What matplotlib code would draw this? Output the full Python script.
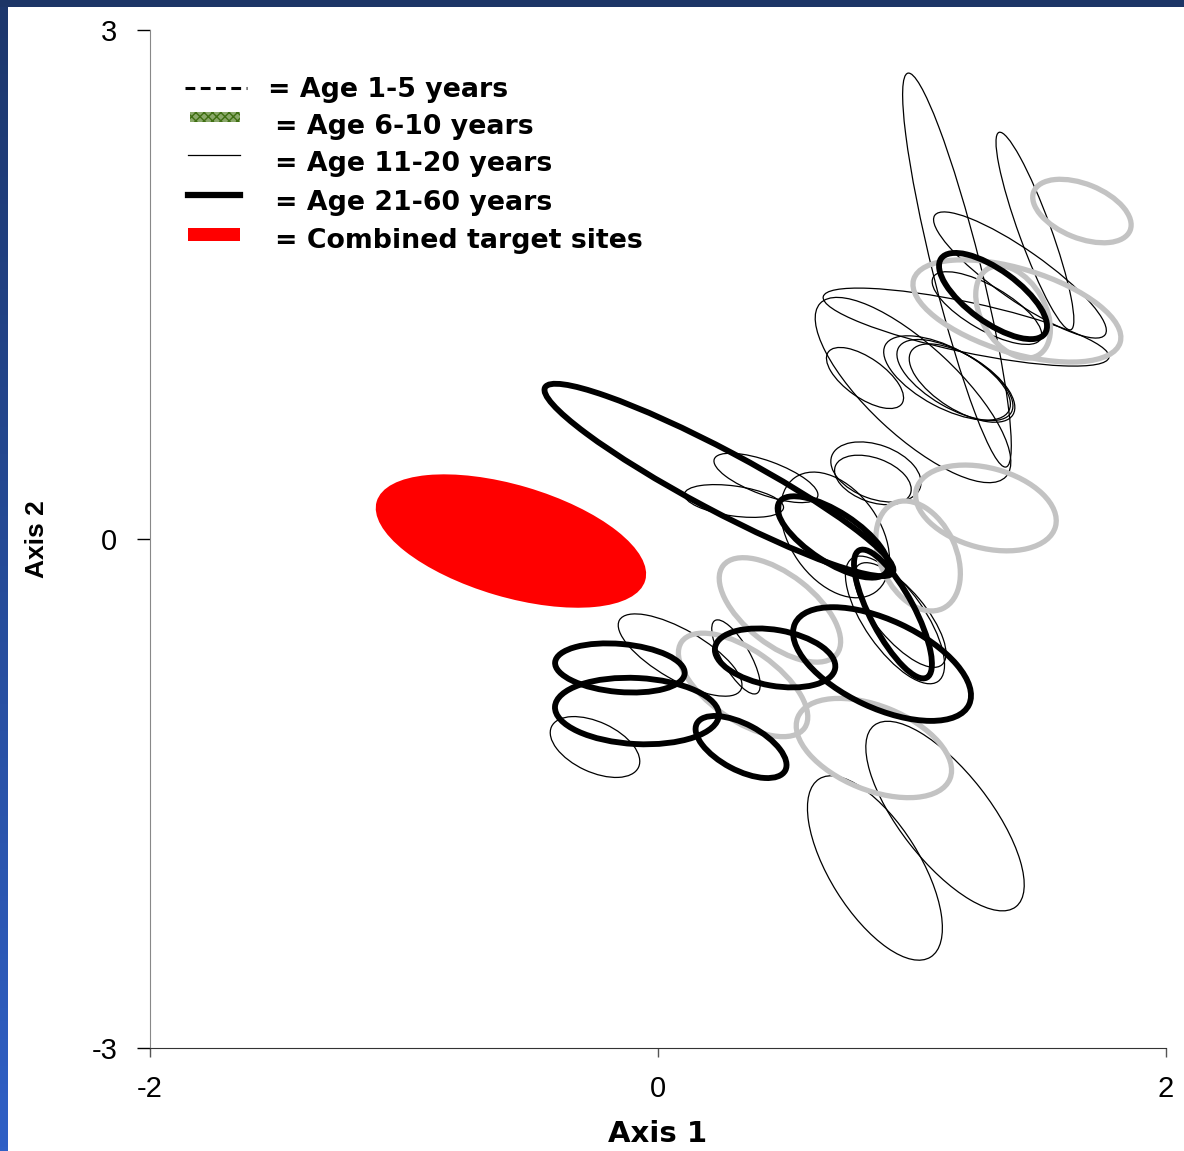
import numpy as np
import matplotlib.pyplot as plt
from matplotlib.collections import EllipseCollection
from matplotlib.patches import Rectangle
from matplotlib.lines import Line2D
from matplotlib.colors import LinearSegmentedColormap

# ellipse groups: centre x, centre y (axis units), full width / height
# (in axis-1 units) and screen angle in degrees
thin_x = [1.177, 1.484, 1.425, 1.295, 1.004, 1.138, 1.169, 1.197, 0.815,
          0.858, 0.846, 0.425, 0.299, 0.697, 0.933, 0.953, 0.087, -0.248,
          0.307, 0.854, 1.130, 1.213]
thin_y = [1.585, 1.815, 1.556, 1.361, 0.878, 0.949, 0.937, 0.919, 0.949,
          0.395, 0.348, 0.360, 0.224, 0.024, -0.477, -0.448, -0.684, -1.226,
          -0.695, -1.939, -1.633, 1.249]
thin_w = [1.598, 0.827, 0.819, 0.488, 1.000, 0.551, 0.512, 0.472, 0.354,
          0.370, 0.315, 0.433, 0.394, 0.551, 0.591, 0.512, 0.551, 0.378,
          0.331, 0.827, 0.906, 1.150]
thin_h = [0.189, 0.126, 0.197, 0.173, 0.354, 0.236, 0.220, 0.213, 0.157,
          0.213, 0.173, 0.134, 0.118, 0.354, 0.236, 0.197, 0.197, 0.197,
          0.110, 0.354, 0.354, 0.197]
thin_a = [-76, -70, -35, -30, -43, -28, -30, -32, -35,
          -20, -20, -20, -8, -55, -55, -50, -30, -25,
          -60, -58, -52, -12]

gray_x = [1.669, 1.413, 1.398, 1.291, 1.024, 0.480, 0.335, 0.850]
gray_y = [1.933, 1.344, 1.338, 0.183, -0.100, -0.418, -0.860, -1.232]
gray_w = [0.409, 0.850, 0.394, 0.567, 0.457, 0.567, 0.591, 0.646]
gray_h = [0.213, 0.331, 0.252, 0.315, 0.299, 0.276, 0.276, 0.331]
gray_a = [-22, -17, -60, -15, -65, -38, -35, -22]

thick_x = [0.240, 1.319, 0.689, 0.925, 0.882, 0.461, -0.150, -0.083, 0.327]
thick_y = [0.348, 1.432, 0.012, -0.442, -0.737, -0.701, -0.760, -1.014, -1.226]
thick_w = [1.551, 0.504, 0.504, 0.567, 0.756, 0.480, 0.512, 0.646, 0.394]
thick_h = [0.236, 0.205, 0.197, 0.173, 0.346, 0.220, 0.189, 0.260, 0.181]
thick_a = [-28, -36, -33, -62, -25, -10, -5, -3, -28]

target_x = [-0.579]
target_y = [-0.012]
target_w = [1.102]
target_h = [0.441]
target_a = [-16.4]

legend_labels = ['= Age 1-5 years', '= Age 6-10 years', '= Age 11-20 years',
                 '= Age 21-60 years', '= Combined target sites']

fig = plt.figure(figsize=(11.84, 11.51), dpi=100)
fig.patch.set_facecolor('white')

# dark frame on top and gradient bar down the left edge
fig.patches.append(Rectangle((0, 1 - 7 / 1151), 1, 7 / 1151, transform=fig.transFigure,
                             facecolor='#1c3566', edgecolor='none', zorder=0))
bar = fig.add_axes([0, 0, 8 / 1184, 1 - 7 / 1151])
grad = np.linspace(0, 1, 256).reshape(-1, 1)
blues = LinearSegmentedColormap.from_list('edge', ['#1d376c', '#2f60c6'])
bar.imshow(grad, aspect='auto', cmap=blues, extent=[0, 1, 0, 1], origin='upper')
bar.axis('off')

ax = fig.add_axes([150 / 1184, 1 - 1048 / 1151, 1016 / 1184, 1018 / 1151])
ax.set_xlim(-2, 2)
ax.set_ylim(-3, 3)


def add_group(xs, ys, ws, hs, angs, **kw):
    coll = EllipseCollection(ws, hs, angs, units='x',
                             offsets=np.column_stack([xs, ys]),
                             offset_transform=ax.transData, **kw)
    ax.add_collection(coll)


add_group(target_x, target_y, target_w, target_h, target_a,
          facecolors='#ff0000', edgecolors='none', zorder=2)
add_group(thin_x, thin_y, thin_w, thin_h, thin_a,
          facecolors='none', edgecolors='black', linewidths=0.9, zorder=3)
add_group(gray_x, gray_y, gray_w, gray_h, gray_a,
          facecolors='none', edgecolors='#c3c3c3', linewidths=3.8, zorder=4)
add_group(thick_x, thick_y, thick_w, thick_h, thick_a,
          facecolors='none', edgecolors='black', linewidths=4.2, zorder=5)

ax.spines['top'].set_visible(False)
ax.spines['right'].set_visible(False)
ax.spines['left'].set_color('#888888')
ax.spines['bottom'].set_color('#333333')
ax.set_xticks([-2, 0, 2])
ax.set_yticks([-3, 0, 3])
ax.set_xticklabels(['-2', '0', '2'])
ax.set_yticklabels(['-3', '0', '3'])
ax.tick_params(axis='y', length=9.4, width=1, color='black', pad=14,
               labelsize=21, labelfontfamily='Liberation Sans')
ax.tick_params(axis='x', length=6.5, width=1, color='#555555', pad=13,
               labelsize=21, labelfontfamily='Liberation Sans')
ax.set_xlabel('Axis 1', fontsize=21, fontweight='bold', family='DejaVu Sans', labelpad=12)
ax.set_ylabel('Axis 2', fontsize=19, fontweight='bold', family='Liberation Sans', labelpad=31)

# hand-made key in the upper left
tr = ax.transAxes
ax.add_line(Line2D([0.0344, 0.0955], [0.943, 0.943], transform=tr, color='black',
                   lw=2.2, dashes=(3.2, 1.8)))
ax.add_patch(Rectangle((0.0394, 0.9096), 0.0492, 0.0098, transform=tr,
                       facecolor='#8aa86a', edgecolor='#3f6f12', hatch='xxxx', lw=0))
ax.add_line(Line2D([0.0374, 0.0886], [0.8772, 0.8772], transform=tr, color='black', lw=0.9))
ax.add_line(Line2D([0.0374, 0.0886], [0.8379, 0.8379], transform=tr, color='black', lw=4.5))
ax.add_patch(Rectangle((0.0374, 0.7927), 0.0512, 0.0128, transform=tr,
                       facecolor='#ff0000', edgecolor='none'))
label_x = [0.116, 0.1230, 0.1230, 0.1230, 0.1230]
label_y = [0.9342, 0.8978, 0.8615, 0.8232, 0.7859]
for lx, ly, txt in zip(label_x, label_y, legend_labels):
    ax.text(lx, ly, txt, transform=tr, fontsize=19.3, fontweight='bold',
            family='DejaVu Sans', va='baseline', ha='left')

fig.savefig('out.png', dpi=100, facecolor='white')
